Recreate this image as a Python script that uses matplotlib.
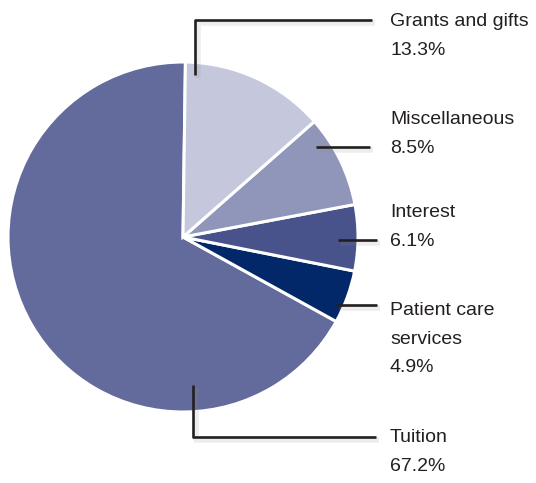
import matplotlib
matplotlib.use("Agg")
import matplotlib.pyplot as plt

labels = ["Tuition", "Patient care\nservices", "Interest", "Miscellaneous", "Grants and gifts"]
shares = [67.2, 4.9, 6.1, 8.5, 13.3]
colors = ["#636b9c", "#03286a", "#47538a", "#9096ba", "#c5c8dd"]

W, H = 536, 483
fig = plt.figure(figsize=(W / 100, H / 100), dpi=100)
ax = fig.add_axes([0, 0, 1, 1])

# pie center / radius in pixel units (y measured from bottom)
cx, cy, r = 183, H - 237, 175
ax.pie(shares, colors=colors, startangle=-28.9 - 241.9, counterclock=True,
       center=(cx, cy), radius=r, frame=True,
       wedgeprops=dict(edgecolor="white", linewidth=2.2))
ax.set_xlim(0, W)
ax.set_ylim(0, H)
ax.axis("off")

ink = "#231f20"
# leader lines (x list, y list from top) and label anchor
leaders = [
    ([193, 193, 376], [385, 437, 437], (390, 452)),
    ([336, 377], [305, 305], (390, 339)),
    ([338, 377], [240, 240], (390, 227)),
    ([316, 370], [147, 147], (390, 134)),
    ([195, 195, 372], [75, 20, 20], (390, 36)),
]
for (xs, ys, (tx, ty)), lab, v in zip(leaders, labels, shares):
    yy = [H - y for y in ys]
    ax.plot([x + 3 for x in xs], [y - 3 for y in yy], color="#8a8a8a",
            lw=4, alpha=0.15, solid_capstyle="butt")
    ax.plot(xs, yy, color=ink, lw=1.9, solid_capstyle="butt")
    ax.text(tx, H - ty, f"{lab}\n{v}%", ha="left", va="center", color=ink,
            fontsize=14, family="Liberation Sans", linespacing=1.88)

fig.savefig("out.png", dpi=100)
